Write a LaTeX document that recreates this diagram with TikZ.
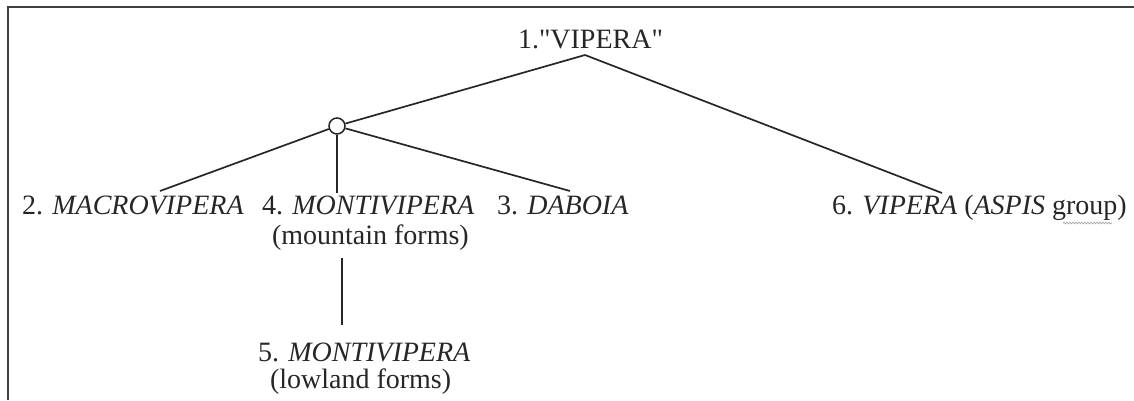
\documentclass[tikz,border=0pt]{standalone}
\usepackage{fontspec}
\setmainfont{Liberation Serif}
\usetikzlibrary{decorations.pathmorphing}
\begin{document}
\begin{tikzpicture}[x=1pt,y=-1pt,
  lbl/.style={inner sep=0pt,outer sep=0pt,anchor=base west,font=\fontsize{28}{31}\selectfont,text=black!85},
  edge/.style={draw=black!85,line width=1.7pt},
  frame/.style={draw=black!75,line width=2.2pt},
  knot/.style={circle,draw=black!85,line width=1.5pt,fill=white,minimum size=16pt,inner sep=0pt}]
\useasboundingbox (0,0) rectangle (1134,400);
\draw[frame] (8,400) -- (8,7) -- (1134,7);
% labels
\node[lbl] (n1) at (518,48) {1.\textquotedbl VIPERA\textquotedbl};
\node[lbl] (n2) at (22,214) {2. \textit{MACROVIPERA}};
\node[lbl] (n4) at (262,214) {4. \textit{MONTIVIPERA}};
\node[lbl] (n4b) at (272,244) {(mountain forms)};
\node[lbl] (n3) at (497,214) {3. \textit{DABOIA}};
\node[lbl] (n6) at (832,214) {6. \textit{VIPERA} (\textit{ASPIS} group)};
\node[lbl] (n5) at (258,361) {5. \textit{MONTIVIPERA}};
\node[lbl] (n5b) at (270,388) {(lowland forms)};
\node[knot] (k) at (337,126) {};
% connector ends
\coordinate (apex) at (585,55);
\coordinate (e2) at (160,191);
\coordinate (e4) at (337,193);
\coordinate (e3) at (570,191);
\coordinate (e6) at (942,193);
\coordinate (m4) at (342,258);
\coordinate (m5) at (342,325);
\draw[edge] (k) -- (apex) -- (e6);
\draw[edge] (k) -- (e2);
\draw[edge] (k) -- (e4);
\draw[edge] (k) -- (e3);
\draw[edge] (m4) -- (m5);
% spell-check underline
\coordinate (w1) at (1063,223);
\coordinate (w2) at (1112,223);
\draw[black!35,line width=0.7pt,decorate,decoration={snake,amplitude=0.8pt,segment length=3pt}] (w1) -- (w2);
\end{tikzpicture}
\end{document}
